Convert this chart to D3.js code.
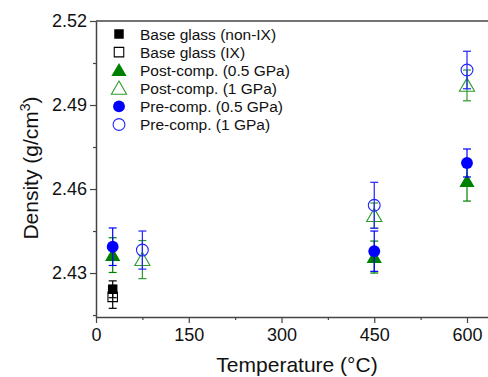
<!DOCTYPE html>
<html>
<head>
<meta charset="utf-8">
<script src="https://cdn.jsdelivr.net/npm/d3@7"></script>
<style>
  body { margin: 0; background: #fff; }
  text { font-family: "Liberation Sans", Arial, sans-serif; fill: #111; }
</style>
</head>
<body>
<div id="graphic"></div>
<script>
// series: temperature (°C), density, error
const baseNonIX = [{ t: 27, v: 2.4242, e: 0.0030 }];
const baseIX = [{ t: 27, v: 2.4215, e: 0.0041 }];
const postHalf = [{ t: 27, v: 2.4364, e: 0.0062 }, { t: 450, v: 2.4357, e: 0.0057 }, { t: 600, v: 2.4628, e: 0.0071 }];
const postOne = [{ t: 75, v: 2.4348, e: 0.0068 }, { t: 450, v: 2.4505, e: 0.0045 }, { t: 600, v: 2.4970, e: 0.0055 }];
const preHalf = [{ t: 27, v: 2.4394, e: 0.0067 }, { t: 450, v: 2.4378, e: 0.0072 }, { t: 600, v: 2.4693, e: 0.0050 }];
const preOne = [{ t: 75, v: 2.4382, e: 0.0068 }, { t: 450, v: 2.4542, e: 0.0082 }, { t: 600, v: 2.5025, e: 0.0067 }];

const xTicks = [0, 150, 300, 450, 600];
const yTicks = [2.43, 2.46, 2.49, 2.52];

const series = [
  { name: "Base glass (non-IX)", data: baseNonIX, shape: "square", fill: true, color: "#000000" },
  { name: "Base glass (IX)", data: baseIX, shape: "square", fill: false, color: "#000000" },
  { name: "Post-comp. (0.5 GPa)", data: postHalf, shape: "triangle", fill: true, color: "#008000" },
  { name: "Post-comp. (1 GPa)", data: postOne, shape: "triangle", fill: false, color: "#2e9a2e" },
  { name: "Pre-comp. (0.5 GPa)", data: preHalf, shape: "circle", fill: true, color: "#0000ff" },
  { name: "Pre-comp. (1 GPa)", data: preOne, shape: "circle", fill: false, color: "#2222ff" }
];

const W = 488, H = 377;
const mLeft = 96, mTop = 21, mBottom = 317;

const svg = d3.select("#graphic").append("svg")
  .attr("width", W)
  .attr("height", H);

const x = d3.scaleLinear().domain([0, 640]).range([mLeft, mLeft + 640 * (371 / 600)]);
const y = d3.scaleLinear().domain([2.4143, 2.52]).range([mBottom, mTop]);

const symbols = {
  square: d3.symbol().type(d3.symbolSquare).size(90),
  triangle: d3.symbol().type(d3.symbolTriangle).size(100),
  circle: d3.symbol().type(d3.symbolCircle).size(110)
};

// frame top line
svg.append("line")
  .attr("x1", mLeft).attr("x2", W)
  .attr("y1", mTop).attr("y2", mTop)
  .attr("stroke", "#444").attr("stroke-width", 1.5);

// x axis
svg.append("g")
  .attr("transform", "translate(0," + mBottom + ")")
  .call(d3.axisBottom(x).tickValues(xTicks).tickSize(6).tickSizeOuter(0).tickPadding(5));
svg.append("g")
  .attr("transform", "translate(0," + mBottom + ")")
  .call(d3.axisBottom(x).tickValues([75, 225, 375, 525]).tickSize(3).tickFormat("").tickSizeOuter(0))
  .select(".domain").remove();

// y axis
svg.append("g")
  .attr("transform", "translate(" + mLeft + ",0)")
  .call(d3.axisLeft(y).tickValues(yTicks).tickFormat(d3.format(".2f")).tickSize(6).tickSizeOuter(0).tickPadding(3));
svg.append("g")
  .attr("transform", "translate(" + mLeft + ",0)")
  .call(d3.axisLeft(y).tickValues([2.415, 2.445, 2.475, 2.505]).tickSize(3).tickFormat("").tickSizeOuter(0))
  .select(".domain").remove();

svg.selectAll(".domain").attr("stroke", "#444").attr("stroke-width", 1.5);
svg.selectAll(".tick line").attr("stroke", "#444").attr("stroke-width", 1.2);
svg.selectAll(".tick text").attr("font-size", 18).attr("font-family", "Liberation Sans, Arial, sans-serif").attr("fill", "#111");

// axis titles
svg.append("text")
  .attr("x", 297).attr("y", 372)
  .attr("text-anchor", "middle")
  .attr("font-size", 21)
  .text("Temperature (°C)");

const yt = svg.append("text")
  .attr("transform", "translate(38,168) rotate(-90)")
  .attr("text-anchor", "middle")
  .attr("font-size", 21);
yt.append("tspan").text("Density (g/cm");
yt.append("tspan").attr("dy", -8).attr("font-size", 14).text("3");
yt.append("tspan").attr("dy", 8).text(")");

// error bars and markers
series.forEach(s => {
  const g = svg.append("g");
  s.data.forEach(d => {
    const cx = x(d.t);
    g.append("line")
      .attr("x1", cx).attr("x2", cx)
      .attr("y1", y(d.v - d.e)).attr("y2", y(d.v + d.e))
      .attr("stroke", s.color).attr("stroke-width", 1.2);
    [d.v - d.e, d.v + d.e].forEach(v => {
      g.append("line")
        .attr("x1", cx - 4).attr("x2", cx + 4)
        .attr("y1", y(v)).attr("y2", y(v))
        .attr("stroke", s.color).attr("stroke-width", 1.2);
    });
  });
  g.selectAll("path.mark")
    .data(s.data)
    .enter().append("path")
    .attr("class", "mark")
    .attr("d", symbols[s.shape])
    .attr("transform", d => "translate(" + x(d.t) + "," + (y(d.v) + (s.shape === "triangle" ? 1.5 : 0)) + ")")
    .attr("fill", s.fill ? s.color : "none")
    .attr("stroke", s.color)
    .attr("stroke-width", s.fill ? 0 : 1.1);
});

// legend
const legend = svg.append("g").attr("transform", "translate(119,34)");
series.forEach((s, i) => {
  const row = legend.append("g").attr("transform", "translate(0," + (i * 18.1) + ")");
  row.append("path")
    .attr("d", symbols[s.shape])
    .attr("transform", s.shape === "triangle" ? "translate(0,1.5)" : null)
    .attr("fill", s.fill ? s.color : "none")
    .attr("stroke", s.color)
    .attr("stroke-width", s.fill ? 0 : 1.1);
  row.append("text")
    .attr("x", 21).attr("y", 5.5)
    .attr("font-size", 15.5)
    .text(s.name);
});
</script>
</body>
</html>
